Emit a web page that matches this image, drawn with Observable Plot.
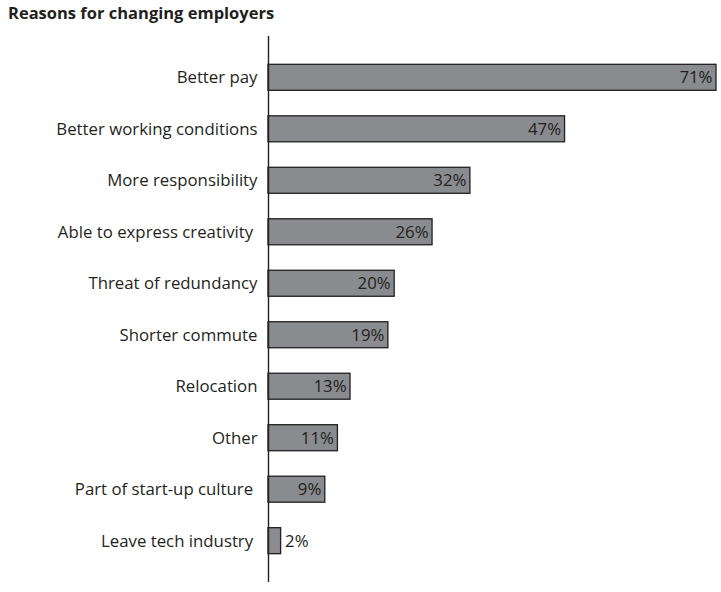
<!DOCTYPE html>
<html>
<head>
<meta charset="utf-8">
<script src="https://cdn.jsdelivr.net/npm/d3@7"></script>
<script src="https://cdn.jsdelivr.net/npm/@observablehq/plot@0.6"></script>
<style>
  html, body { margin: 0; padding: 0; background: #fff; }
  #title { height: 30px; box-sizing: border-box; padding: 3px 0 0 8px; font-family: "Open Sans", sans-serif; font-weight: bold; font-size: 16.5px; color: #231f20; line-height: 20px; }
  #chart svg { display: block; }
  svg text { white-space: pre; }
</style>
</head>
<body>
<div id="title">Reasons for changing employers</div>
<div id="chart"></div>
<script>
const reasons = [
  "Better pay",
  "Better working conditions",
  "More responsibility",
  "Able to express creativity ",
  "Threat of redundancy",
  "Shorter commute",
  "Relocation",
  "Other",
  "Part of start-up culture ",
  "Leave tech industry "
];
const percents = [71, 47, 32, 26, 20, 19, 13, 11, 9, 2];

const data = reasons.map((r, i) => ({reason: r, value: percents[i]}));
const ink = "#231f20";

const chart = Plot.plot({
  width: 721,
  height: 562,
  marginLeft: 268,
  marginRight: 5,
  marginTop: 6,
  marginBottom: 10,
  style: {fontFamily: "'Open Sans', sans-serif", fontSize: "16.8px", color: ink, background: "#fff"},
  x: {domain: [0, 71], axis: null},
  y: {domain: reasons, paddingInner: 0.495, paddingOuter: 0.55, round: false, label: null},
  marks: [
    Plot.barX(data, {x: "value", y: "reason", fill: "#8a8b8e", stroke: ink, strokeWidth: 1.3}),
    Plot.ruleX([0], {stroke: ink, strokeWidth: 1.4}),
    Plot.axisY({tickSize: 0, tickPadding: 11, fontSize: 16.8, label: null, fill: ink}),
    Plot.text(data.filter(d => d.value >= 5), {x: "value", y: "reason", text: d => d.value + "%", textAnchor: "end", dx: -4, fill: ink, fontSize: 16.8}),
    Plot.text(data.filter(d => d.value < 5), {x: "value", y: "reason", text: d => d.value + "%", textAnchor: "start", dx: 4, fill: ink, fontSize: 16.8})
  ]
});
document.getElementById("chart").appendChild(chart);
</script>
</body>
</html>
